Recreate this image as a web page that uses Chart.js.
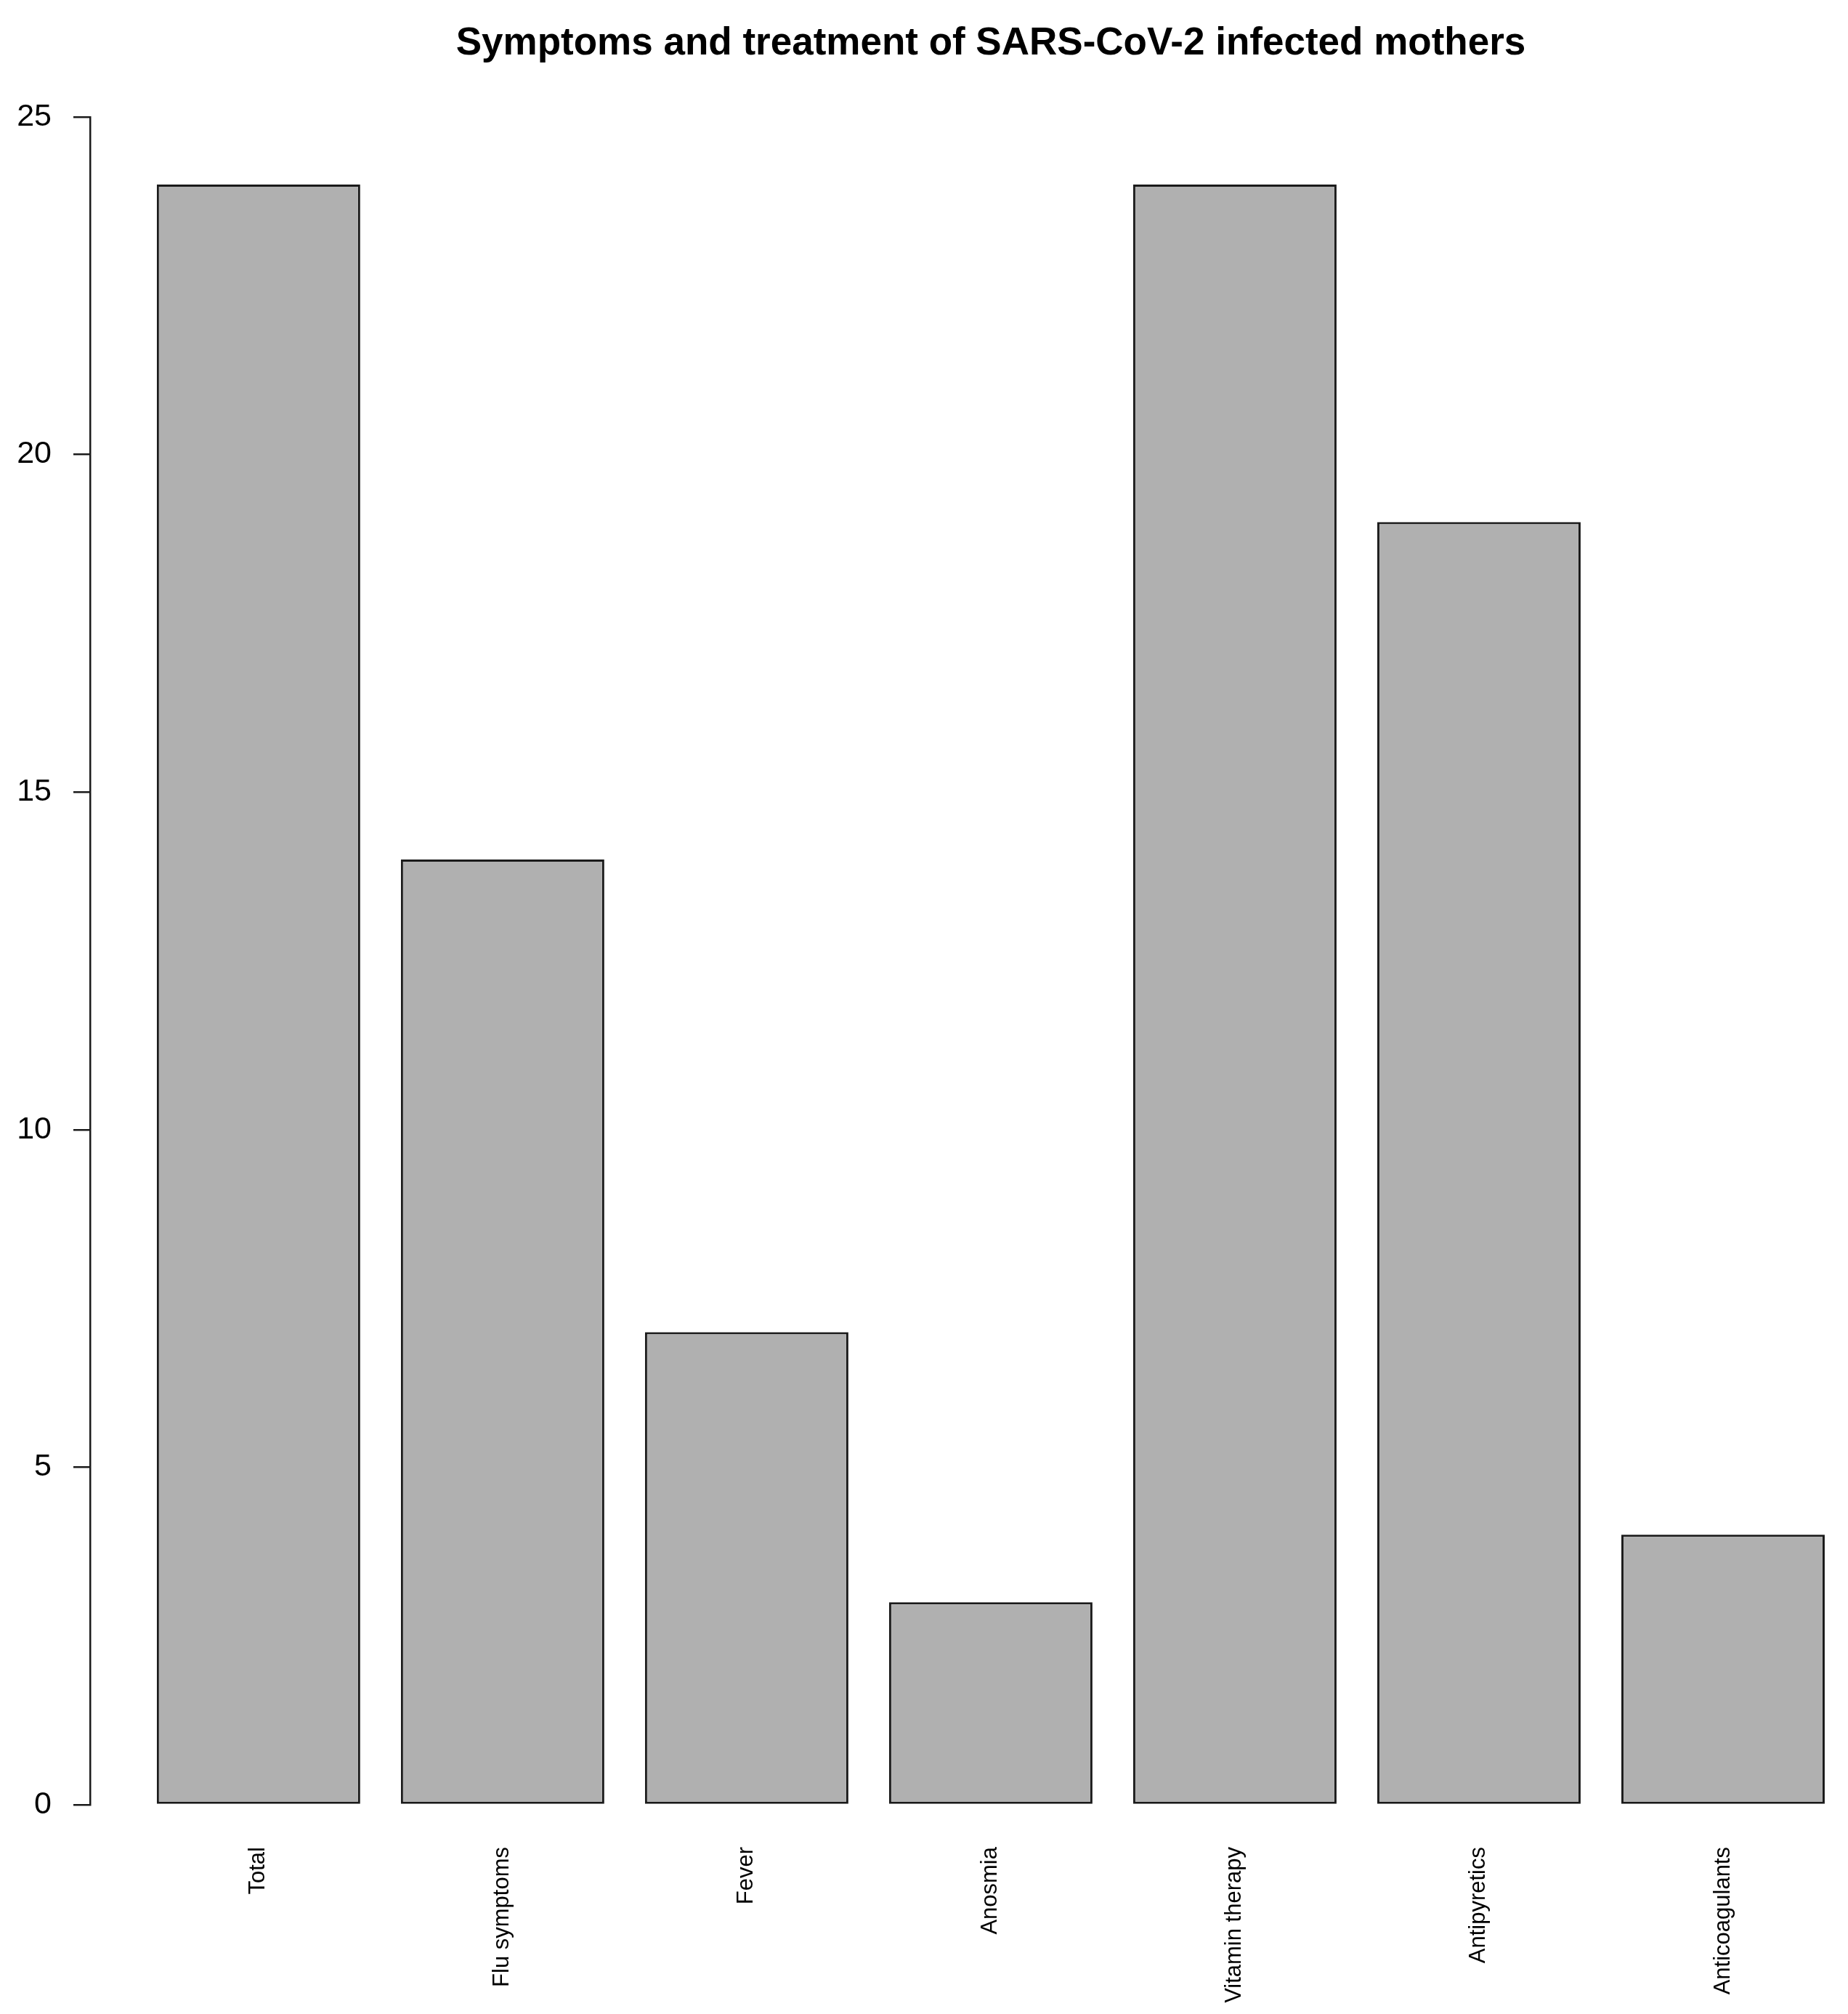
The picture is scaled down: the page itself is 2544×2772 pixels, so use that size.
<!DOCTYPE html>
<html>
<head>
<meta charset="utf-8">
<title>Symptoms and treatment of SARS-CoV-2 infected mothers</title>
<script src="https://cdn.jsdelivr.net/npm/chart.js@4.4.1/dist/chart.umd.min.js"></script>
<style>
  html, body { margin: 0; padding: 0; background: #fff; overflow: hidden; }
  canvas { display: block; }
</style>
</head>
<body>
<canvas id="symptomsChart" width="2544" height="2772"></canvas>
<script>
const chartTitle = "Symptoms and treatment of SARS-CoV-2 infected mothers";
const categories = ["Total", "Flu symptoms", "Fever", "Anosmia", "Vitamin therapy", "Antipyretics", "Anticoagulants"];
const counts = [24, 14, 7, 3, 24, 19, 4];
const yTicks = [0, 5, 10, 15, 20, 25];

const FONT = "'Liberation Sans', Arial, Helvetica, sans-serif";
const INK = "#1a1a1a";

// one x unit per bar, on a linear axis, so the y axis can stand off to the left like base R barplot
const barPoints = counts.map((v, i) => ({ x: i, y: v }));

// R puts main title over the plot region, not the canvas centre
const rTitle = {
  id: "rTitle",
  afterDraw(chart) {
    const ctx = chart.ctx;
    ctx.save();
    ctx.font = "bold 53px " + FONT;
    ctx.fillStyle = "#000";
    ctx.textAlign = "center";
    ctx.textBaseline = "alphabetic";
    ctx.fillText(chartTitle, 1364, 75);
    ctx.restore();
  }
};

new Chart(document.getElementById("symptomsChart"), {
  type: "bar",
  data: {
    datasets: [{
      data: barPoints,
      backgroundColor: "#b0b0b0",
      borderColor: INK,
      borderWidth: 3,
      borderSkipped: false,
      barPercentage: 1 / 1.2,
      categoryPercentage: 1
    }]
  },
  options: {
    responsive: false,
    animation: false,
    layout: { padding: { top: 161, bottom: 0, left: 0, right: 0 } },
    plugins: {
      legend: { display: false },
      tooltip: { enabled: false },
      title: { display: false }
    },
    scales: {
      x: {
        type: "linear",
        position: "bottom",
        offset: false,
        min: -0.69,
        max: 6.512,
        grid: { display: false, offset: false },
        border: { display: false },
        ticks: {
          stepSize: 1,
          includeBounds: false,
          autoSkip: false,
          minRotation: 90,
          maxRotation: 90,
          padding: 50,
          color: "#000",
          font: { family: FONT, size: 31 },
          callback: v => categories[v] ?? ""
        },
        afterFit: s => { s.height = 288; }
      },
      y: {
        type: "linear",
        position: "left",
        min: 0,
        max: 25,
        afterBuildTicks: s => { s.ticks = yTicks.map(v => ({ value: v })); },
        grid: {
          drawOnChartArea: false,
          drawTicks: true,
          tickLength: 23,
          color: INK,
          lineWidth: 2.5
        },
        border: { display: true, color: INK, width: 2.5 },
        ticks: {
          padding: 30,
          color: "#000",
          font: { family: FONT, size: 43 }
        },
        afterFit: s => { s.width = 124; }
      }
    }
  },
  plugins: [rTitle]
});
</script>
</body>
</html>
